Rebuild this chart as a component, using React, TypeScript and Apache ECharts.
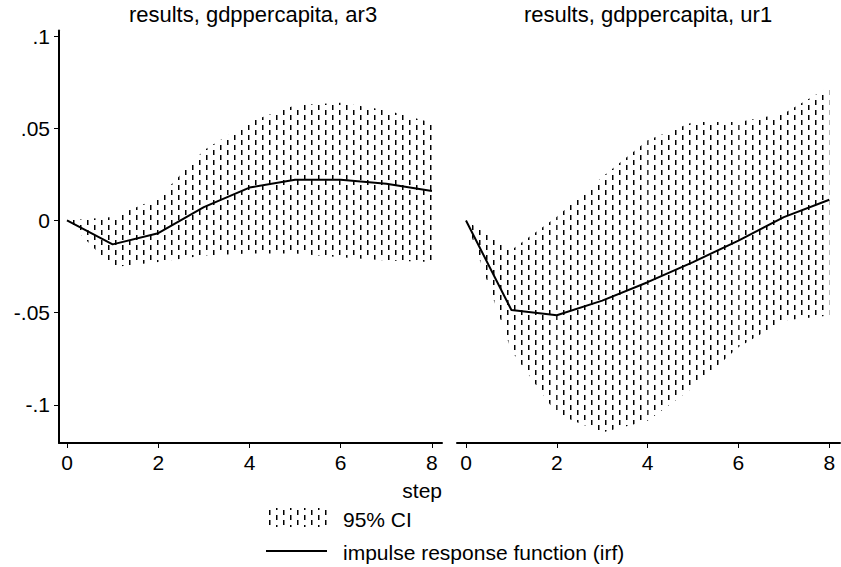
import React, { useEffect, useRef } from 'react';
import * as echarts from 'echarts';

const steps = [0, 1, 2, 3, 4, 5, 6, 7, 8];
const ar3Irf = [0, -0.013, -0.0069, 0.0072, 0.0178, 0.0221, 0.0221, 0.0199, 0.0159];
const ar3Lower = [0, -0.0254, -0.0226, -0.019, -0.018, -0.018, -0.02, -0.0217, -0.0226];
const ar3Upper = [0, 0.0018, 0.012, 0.038, 0.0534, 0.0625, 0.0638, 0.0598, 0.053];
const ur1Irf = [0, -0.0486, -0.0514, -0.0435, -0.0335, -0.0226, -0.0109, 0.0018, 0.0112];
const ur1Lower = [0, -0.0707, -0.105, -0.115, -0.1087, -0.0906, -0.0688, -0.0543, -0.0516];
const ur1Upper = [0, -0.016, 0.002, 0.0236, 0.0435, 0.0534, 0.0534, 0.058, 0.0725];
const xTicks = [0, 2, 4, 6, 8];
const yTicks = [-0.1, -0.05, 0, 0.05, 0.1];
const panelTitles = ['results, gdppercapita, ar3', 'results, gdppercapita, ur1'];
const legendLabels = ['95% CI', 'impulse response function (irf)'];
const xAxisTitle = 'step';

const FONT = '"Liberation Sans", Arial, Helvetica, sans-serif';
const FS = 21;
const TITLE_FS = 22;

function makePattern() {
  const c = document.createElement('canvas');
  c.width = 14;
  c.height = 10;
  const ctx = c.getContext('2d')!;
  ctx.fillStyle = '#000';
  ctx.fillRect(3, 0, 1.5, 5);
  ctx.fillRect(10, 5, 1.5, 5);
  return { image: c.toDataURL(), repeat: 'repeat', imageWidth: 14, imageHeight: 10 } as any;
}

const fmtY = (v: number) => {
  if (Math.abs(v) < 1e-9) return '0';
  const s = String(Math.abs(v)).replace(/^0/, '');
  return (v < 0 ? '-' : '') + s;
};

export default function App() {
  const ref = useRef<HTMLDivElement>(null);
  useEffect(() => {
    if (!ref.current) return;
    const chart = echarts.init(ref.current, undefined, { renderer: 'svg' });
    const pattern = makePattern();
    const grids = [
      { left: 59, top: 30.5, width: 383, height: 412.5 },
      { left: 457, top: 30.5, width: 383, height: 412.5 },
    ];
    const xRanges = [
      [-0.175, 8.22],
      [-0.198, 8.236],
    ];
    const xAxes = xRanges.map((r, i) => ({
      type: 'value',
      gridIndex: i,
      min: r[0],
      max: r[1],
      splitLine: { show: false },
      axisLine: { show: true, onZero: false, lineStyle: { color: '#000', width: 2 } },
      axisTick: { show: true, length: 5, lineStyle: { color: '#000', width: 1 }, customValues: xTicks },
      axisLabel: { color: '#000', fontFamily: FONT, fontSize: FS, margin: 9, customValues: xTicks, formatter: (v: number) => String(v) },
    }));
    const yAxes = [0, 1].map((i) => ({
      type: 'value',
      gridIndex: i,
      min: -0.1207,
      max: 0.103,
      splitLine: { show: false },
      axisLine: { show: i === 0, onZero: false, lineStyle: { color: '#000', width: 2 } },
      axisTick: { show: i === 0, length: 5, lineStyle: { color: '#000', width: 1 }, customValues: yTicks },
      axisLabel: { show: i === 0, color: '#000', fontFamily: FONT, fontSize: FS, margin: 9, customValues: yTicks, formatter: fmtY },
    }));
    const panels = [
      { irf: ar3Irf, lo: ar3Lower, hi: ar3Upper },
      { irf: ur1Irf, lo: ur1Lower, hi: ur1Upper },
    ];
    const series: any[] = [];
    panels.forEach((p, i) => {
      const segs = steps.slice(0, -1).map((s, k) => [s, p.lo[k], p.hi[k], steps[k + 1], p.lo[k + 1], p.hi[k + 1]]);
      series.push({
        type: 'custom',
        xAxisIndex: i,
        yAxisIndex: i,
        data: segs,
        encode: { x: [0, 3], y: [1, 2, 4, 5] },
        silent: true,
        z: 1,
        renderItem: (params: any, api: any) => {
          const a = api.coord([api.value(0), api.value(1)]);
          const b = api.coord([api.value(3), api.value(4)]);
          const c = api.coord([api.value(3), api.value(5)]);
          const d = api.coord([api.value(0), api.value(2)]);
          return {
            type: 'polygon',
            shape: { points: [a, b, c, d] },
            style: { fill: pattern, stroke: null },
          };
        },
      });
      series.push({
        type: 'line',
        xAxisIndex: i,
        yAxisIndex: i,
        data: steps.map((s, k) => [s, p.irf[k]]),
        symbol: 'none',
        lineStyle: { color: '#000', width: 2 },
        silent: true,
        z: 3,
      });
    });
    const textStyle = (extra: any, fs = FS) => ({ fill: '#000', font: `${fs}px ${FONT}`, ...extra });
    chart.setOption({
      animation: false,
      backgroundColor: '#fff',
      grid: grids,
      xAxis: xAxes,
      yAxis: yAxes,
      series,
      graphic: [
        { type: 'text', x: 253, y: 14, style: textStyle({ text: panelTitles[0], align: 'center', verticalAlign: 'middle' }, TITLE_FS) },
        { type: 'text', x: 648, y: 14, style: textStyle({ text: panelTitles[1], align: 'center', verticalAlign: 'middle' }, TITLE_FS) },
        { type: 'text', x: 442, y: 490, style: textStyle({ text: xAxisTitle, align: 'right', verticalAlign: 'middle' }) },
        { type: 'rect', shape: { x: 265, y: 508, width: 66, height: 19 }, style: { fill: pattern } },
        { type: 'text', x: 343, y: 519, style: textStyle({ text: legendLabels[0], align: 'left', verticalAlign: 'middle' }) },
        { type: 'line', shape: { x1: 266, y1: 551, x2: 327, y2: 551 }, style: { stroke: '#000', lineWidth: 2 } },
        { type: 'text', x: 343, y: 552, style: textStyle({ text: legendLabels[1], align: 'left', verticalAlign: 'middle' }) },
      ],
    });
    return () => chart.dispose();
  }, []);
  return <div ref={ref} style={{ position: 'fixed', left: 0, top: 0, width: 841, height: 567 }} />;
}
